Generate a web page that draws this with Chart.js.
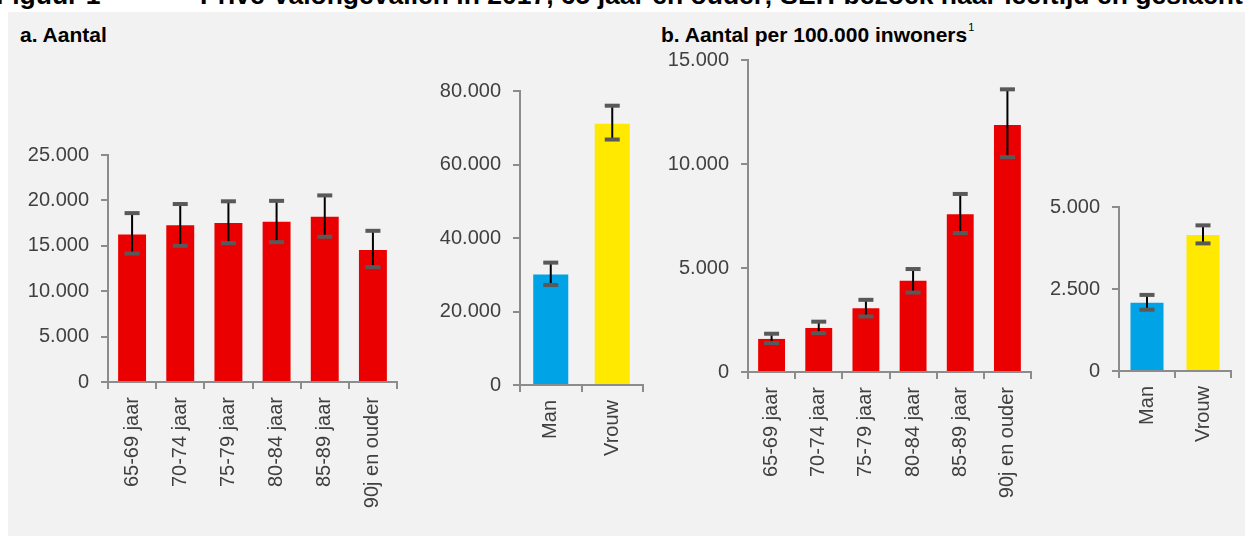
<!DOCTYPE html>
<html>
<head>
<meta charset="utf-8">
<script src="https://cdn.jsdelivr.net/npm/chart.js@4.4.0/dist/chart.umd.min.js"></script>
<style>
  body { margin: 0; background: #fff; width: 1245px; height: 536px; overflow: hidden; position: relative; font-family: "Liberation Sans", Arial, sans-serif; }
  .title { position: absolute; top: -18px; font-weight: bold; font-size: 26.5px; line-height: 26px; white-space: pre; color: #000; }
  #panel { position: absolute; left: 8px; top: 12px; right: 0; bottom: 0; background: #f2f2f2; }
  .sub { position: absolute; font-weight: bold; font-size: 21px; color: #000; white-space: nowrap; }
  .sub sup { font-weight: normal; font-size: 11px; position: relative; top: -3px; margin-left: 1px; }
  canvas { position: absolute; }
</style>
</head>
<body>
<div class="title" style="left:-4px;">Figuur 1</div>
<div class="title" style="left:200px;">Privé-valongevallen in 2017, 65 jaar en ouder; SEH-bezoek naar leeftijd en geslacht</div>
<div id="panel"></div>
<div class="sub" style="left:20px; top:23px;">a. Aantal</div>
<div class="sub" style="left:661px; top:23px;">b. Aantal per 100.000 inwoners<sup>1</sup></div>

<canvas id="chartA1" width="400" height="385" style="left:10px; top:140px;"></canvas>
<canvas id="chartA2" width="235" height="450" style="left:420px; top:75px;"></canvas>
<canvas id="chartB1" width="395" height="480" style="left:650px; top:45px;"></canvas>
<canvas id="chartB2" width="205" height="335" style="left:1040px; top:190px;"></canvas>

<script>
// categories
const ageLabels = ['65-69 jaar', '70-74 jaar', '75-79 jaar', '80-84 jaar', '85-89 jaar', '90j en ouder'];
const sexLabels = ['Man', 'Vrouw'];

// a. Aantal, naar leeftijd (with 95% interval)
const aantalLeeftijd = [16250, 17250, 17500, 17650, 18200, 14550];
const aantalLeeftijdLo = [14150, 15000, 15300, 15400, 16000, 12650];
const aantalLeeftijdHi = [18600, 19600, 19900, 19950, 20550, 16650];

// a. Aantal, naar geslacht
const aantalGeslacht = [30100, 71100];
const aantalGeslachtLo = [27200, 66800];
const aantalGeslachtHi = [33300, 76000];

// b. Aantal per 100.000 inwoners, naar leeftijd
const perLeeftijd = [1590, 2110, 3060, 4390, 7590, 11880];
const perLeeftijdLo = [1390, 1870, 2670, 3820, 6680, 10330];
const perLeeftijdHi = [1840, 2420, 3470, 4950, 8560, 13590];

// b. Aantal per 100.000 inwoners, naar geslacht
const perGeslacht = [2080, 4150];
const perGeslachtLo = [1870, 3890];
const perGeslachtHi = [2320, 4440];

// y-axis tick settings per chart
const ticksA1 = { max: 25000, step: 5000 };
const ticksA2 = { max: 80000, step: 20000 };
const ticksB1 = { max: 15000, step: 5000 };
const ticksB2 = { max: 5000, step: 2500 };

const RED = '#ea0000';
const BLUE = '#00a3e6';
const YELLOW = '#ffe900';
const AXIS = '#8c8c8c';
const TEXT = '#404040';

// Dutch thousands separator
function formatNL(v) {
    return String(v).replace(/\B(?=(\d{3})+(?!\d))/g, '.');
}

// Plugin that draws the error bars from the lo/hi arrays
const errorBarPlugin = {
    id: 'errorBars',
    afterDatasetsDraw(chart, args, opts) {
        const ctx = chart.ctx;
        const x = chart.scales.x;
        const y = chart.scales.y;
        ctx.save();
        opts.lo.forEach((lo, i) => {
            const px = x.getPixelForValue(i);
            const yLo = y.getPixelForValue(lo);
            const yHi = y.getPixelForValue(opts.hi[i]);
            ctx.strokeStyle = '#000';
            ctx.lineWidth = 2;
            ctx.beginPath();
            ctx.moveTo(px, yLo);
            ctx.lineTo(px, yHi);
            ctx.stroke();
            ctx.fillStyle = '#595959';
            const w = opts.capWidth;
            ctx.fillRect(px - w / 2, yHi - 2, w, 4);
            ctx.fillRect(px - w / 2, yLo - 2, w, 4);
        });
        ctx.restore();
    }
};

function makeChart(id, labels, values, lo, hi, colors, tickCfg, layout) {
    const ctx = document.getElementById(id).getContext('2d');
    return new Chart(ctx, {
        type: 'bar',
        data: {
            labels: labels,
            datasets: [{
                data: values,
                backgroundColor: colors,
                borderWidth: 0,
                categoryPercentage: 1,
                barPercentage: layout.barPct,
            }],
        },
        options: {
            responsive: false,
            animation: false,
            layout: { padding: { top: layout.top, right: layout.right, left: 0, bottom: 0 } },
            plugins: {
                legend: { display: false },
                tooltip: { enabled: false },
                errorBars: { lo: lo, hi: hi, capWidth: layout.cap },
            },
            scales: {
                x: {
                    afterFit: s => {
                        s.height = layout.xHeight;
                        s.paddingLeft = 0;
                        s.paddingRight = 0;
                    },
                    border: { color: AXIS, width: 2 },
                    grid: { drawOnChartArea: false, drawTicks: true, tickLength: 7, color: AXIS, lineWidth: 2 },
                    ticks: {
                        color: TEXT,
                        font: { family: '"Liberation Sans", Arial, sans-serif', size: 20 },
                        minRotation: 90,
                        maxRotation: 90,
                        padding: 8,
                        autoSkip: false,
                    },
                },
                y: {
                    min: 0,
                    max: tickCfg.max,
                    afterFit: s => {
                        s.width = layout.yWidth;
                        s.paddingTop = 0;
                        s.paddingBottom = 0;
                    },
                    border: { color: AXIS, width: 2 },
                    grid: { drawOnChartArea: false, drawTicks: true, tickLength: 7, color: AXIS, lineWidth: 2 },
                    ticks: {
                        stepSize: tickCfg.step,
                        color: TEXT,
                        font: { family: '"Liberation Sans", Arial, sans-serif', size: 20 },
                        padding: 12,
                        callback: v => formatNL(v),
                    },
                },
            },
        },
        plugins: [errorBarPlugin],
    });
}

makeChart('chartA1', ageLabels, aantalLeeftijd, aantalLeeftijdLo, aantalLeeftijdHi,
    RED, ticksA1, { top: 15, right: 13, xHeight: 143, yWidth: 98, barPct: 0.58, cap: 15 });
makeChart('chartA2', sexLabels, aantalGeslacht, aantalGeslachtLo, aantalGeslachtHi,
    [BLUE, YELLOW], ticksA2, { top: 16, right: 12, xHeight: 140, yWidth: 100, barPct: 0.57, cap: 15 });
makeChart('chartB1', ageLabels, perLeeftijd, perLeeftijdLo, perLeeftijdHi,
    RED, ticksB1, { top: 15, right: 14, xHeight: 153, yWidth: 98, barPct: 0.57, cap: 15 });
makeChart('chartB2', sexLabels, perGeslacht, perGeslachtLo, perGeslachtHi,
    [BLUE, YELLOW], ticksB2, { top: 17, right: 14, xHeight: 154, yWidth: 79, barPct: 0.59, cap: 15 });
</script>
</body>
</html>
